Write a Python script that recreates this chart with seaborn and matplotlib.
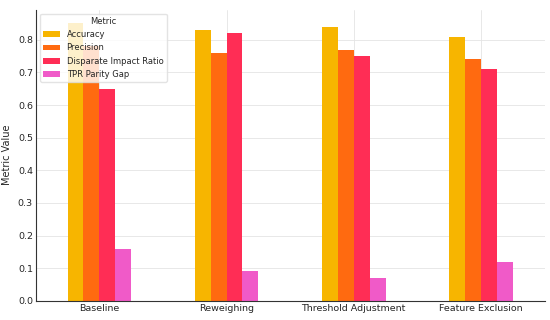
import matplotlib
matplotlib.use("Agg")
import matplotlib.pyplot as plt
import pandas as pd
import seaborn as sns

methods = ["Baseline", "Reweighing", "Threshold Adjustment", "Feature Exclusion"]
metrics = ["Accuracy", "Precision", "Disparate Impact Ratio", "TPR Parity Gap"]
accuracy = [0.85, 0.83, 0.84, 0.81]
precision = [0.78, 0.76, 0.77, 0.74]
disparate_impact = [0.65, 0.82, 0.75, 0.71]
tpr_gap = [0.16, 0.09, 0.07, 0.12]

colors = ["#f7b500", "#ff6a10", "#ff2d55", "#f05ac8"]

rows = []
for name, vals in zip(metrics, [accuracy, precision, disparate_impact, tpr_gap]):
    for m, v in zip(methods, vals):
        rows.append({"Method": m, "Metric": name, "Value": v})
df = pd.DataFrame(rows)

sns.set_theme(style="whitegrid")
plt.rcParams["font.family"] = ["DejaVu Sans"]

fig, ax = plt.subplots(figsize=(5.5, 3.2), dpi=100)
sns.barplot(data=df, x="Method", y="Value", hue="Metric", palette=colors,
            width=0.5, saturation=1, linewidth=0, ax=ax)
ax.set_xlabel("")
ax.set_ylabel("Metric Value", fontsize=7)
ax.tick_params(axis="both", labelsize=6.8, length=0, pad=2)
for s in ["top", "right"]:
    ax.spines[s].set_visible(False)
for s in ["left", "bottom"]:
    ax.spines[s].set_color("#333333")
    ax.spines[s].set_linewidth(0.8)
ax.grid(color="#e4e4e4", linewidth=0.6)
leg = ax.legend(title="Metric", loc="upper left", fontsize=6, title_fontsize=6,
                frameon=True, borderpad=0.4, handlelength=2.0, labelspacing=0.5)
leg.get_frame().set_edgecolor("#dddddd")
fig.subplots_adjust(left=0.065, right=0.99, top=0.97, bottom=0.06)
fig.savefig("out.png", dpi=100)
